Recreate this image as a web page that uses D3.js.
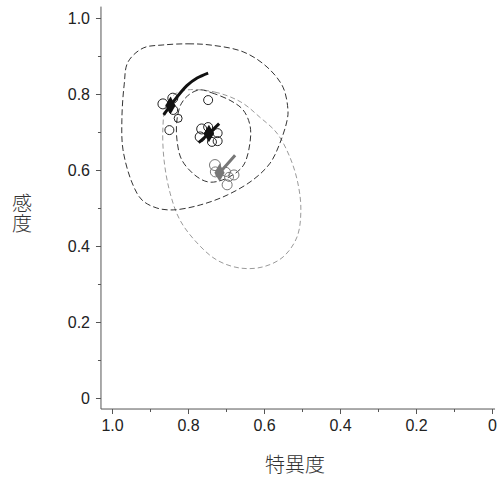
<!DOCTYPE html>
<html><head><meta charset="utf-8">
<script src="https://cdn.jsdelivr.net/npm/d3@7"></script>
<style>body{margin:0;background:#fff}</style>
</head><body>
<svg id="c" width="498" height="478"></svg>
<script>
// ---- data (specificity, sensitivity) ----
const tickValues = [1.0, 0.8, 0.6, 0.4, 0.2, 0];
const tickLabels = ["1.0", "0.8", "0.6", "0.4", "0.2", "0"];
const xTitle = "特異度";
const yTitle = "感度";

// study points: [spec, sens, size]
const studiesA = [[0.866,0.774,5],[0.840,0.789,5],[0.839,0.758,4.5],[0.826,0.736,4],[0.849,0.705,4.5],[0.747,0.784,4.5]];
const studiesB = [[0.764,0.708,5],[0.747,0.713,4.5],[0.768,0.687,5],[0.722,0.697,4.5],[0.722,0.676,4.5],[0.737,0.674,4.5]];
const studiesC = [[0.729,0.613,5.5],[0.728,0.595,5],[0.700,0.595,4.5],[0.679,0.587,5],[0.692,0.582,4.5],[0.697,0.561,5]];

// summary points
const summaryA = [0.846, 0.770];
const summaryB = [0.745, 0.696];
const summaryC = [0.717, 0.593];

// SROC curve segments
const curveA = [[0.864,0.745],[0.846,0.770],[0.803,0.822],[0.776,0.842],[0.747,0.855]];
const curveB = [[0.772,0.672],[0.745,0.696],[0.718,0.722]];
const curveC = [[0.726,0.584],[0.717,0.593],[0.676,0.639]];

// regions
const regionOuter = [[0.866,0.929],[0.800,0.932],[0.742,0.929],[0.655,0.911],[0.592,0.871],[0.550,0.818],[0.537,0.758],[0.539,0.732],[0.558,0.671],[0.584,0.618],[0.629,0.574],[0.697,0.534],[0.768,0.508],[0.839,0.495],[0.882,0.500],[0.921,0.521],[0.947,0.566],[0.971,0.653],[0.974,0.732],[0.968,0.824],[0.958,0.884],[0.918,0.921]];
const regionInner = [[0.768,0.811],[0.737,0.803],[0.687,0.782],[0.655,0.758],[0.637,0.718],[0.637,0.671],[0.655,0.611],[0.697,0.579],[0.742,0.568],[0.776,0.582],[0.816,0.626],[0.829,0.679],[0.829,0.732],[0.818,0.774],[0.795,0.800]];
const regionGray = [[0.800,0.811],[0.729,0.805],[0.661,0.779],[0.611,0.739],[0.566,0.697],[0.532,0.634],[0.511,0.566],[0.503,0.495],[0.513,0.424],[0.550,0.371],[0.603,0.345],[0.663,0.342],[0.724,0.363],[0.776,0.408],[0.821,0.468],[0.847,0.539],[0.863,0.626],[0.866,0.713],[0.858,0.771],[0.834,0.800]];

// ---- drawing ----
const svg = d3.select("#c");
const x = d3.scaleLinear().domain([1, 0]).range([112, 492]);
const y = d3.scaleLinear().domain([0, 1]).range([398, 18]);
const axisCol = "#555", textCol = "#222";

// axis lines
svg.append("line").attr("x1", x(1.029)).attr("x2", x(-0.008)).attr("y1", y(-0.029)).attr("y2", y(-0.029)).attr("stroke", axisCol);
svg.append("line").attr("x1", x(1.029)).attr("x2", x(1.029)).attr("y1", y(-0.029)).attr("y2", y(1.03)).attr("stroke", axisCol);

const xAxis = d3.axisBottom(x).tickValues(tickValues).tickFormat((d,i)=>tickLabels[i]).tickSize(5).tickSizeOuter(0).tickPadding(6);
const xMinor = d3.axisBottom(x).tickValues([0.9,0.7,0.5,0.3,0.1]).tickFormat("").tickSize(3).tickSizeOuter(0);
const yAxis = d3.axisLeft(y).tickValues(tickValues).tickFormat((d,i)=>tickLabels[i]).tickSize(5).tickSizeOuter(0).tickPadding(6);
const yMinor = d3.axisLeft(y).tickValues([0.9,0.7,0.5,0.3,0.1]).tickFormat("").tickSize(3).tickSizeOuter(0);

function styleAxis(g){
  g.select(".domain").remove();
  g.selectAll("line").attr("stroke", axisCol);
  g.selectAll("text").attr("fill", textCol).style("font-family","'Liberation Sans', Arial, sans-serif").style("font-size","16px");
}
svg.append("g").attr("transform",`translate(0,${y(-0.029)})`).call(xAxis).call(styleAxis);
svg.append("g").attr("transform",`translate(0,${y(-0.029)})`).call(xMinor).call(styleAxis);
svg.append("g").attr("transform",`translate(${x(1.029)},0)`).call(yAxis).call(styleAxis);
svg.append("g").attr("transform",`translate(${x(1.029)},0)`).call(yMinor).call(styleAxis);

// titles
svg.append("text").attr("x", 295).attr("y", 472).attr("text-anchor","middle")
  .style("font-family","'Noto Sans CJK JP', sans-serif").style("font-size","20px").style("font-weight","300")
  .attr("fill","#333").text(xTitle);
svg.append("text").attr("x", 22).attr("y", 193)
  .style("writing-mode","tb").style("glyph-orientation-vertical","0")
  .style("font-family","'Noto Sans CJK JP', sans-serif").style("font-size","20px").style("font-weight","300")
  .attr("fill","#333").text(yTitle);

// regions
const closed = d3.line().x(d=>x(d[0])).y(d=>y(d[1])).curve(d3.curveCatmullRomClosed.alpha(0.5));
svg.append("path").attr("d", closed(regionGray)).attr("fill","none").attr("stroke","#9a9a9a").attr("stroke-width",1).attr("stroke-dasharray","5,3");
svg.append("path").attr("d", closed(regionOuter)).attr("fill","none").attr("stroke","#333").attr("stroke-width",1).attr("stroke-dasharray","6,3");
svg.append("path").attr("d", closed(regionInner)).attr("fill","none").attr("stroke","#333").attr("stroke-width",1).attr("stroke-dasharray","6,3");

// study circles
function circles(data, col){
  svg.append("g").selectAll("circle").data(data).join("circle")
    .attr("cx", d=>x(d[0])).attr("cy", d=>y(d[1])).attr("r", d=>d[2])
    .attr("fill","none").attr("stroke", col).attr("stroke-width",1);
}
circles(studiesA, "#222");
circles(studiesB, "#222");
circles(studiesC, "#777");

// curves
const open = d3.line().x(d=>x(d[0])).y(d=>y(d[1])).curve(d3.curveCatmullRom);
svg.append("path").attr("d", open(curveA)).attr("fill","none").attr("stroke","#111").attr("stroke-width",3);
svg.append("path").attr("d", open(curveB)).attr("fill","none").attr("stroke","#111").attr("stroke-width",3);
svg.append("path").attr("d", open(curveC)).attr("fill","none").attr("stroke","#777").attr("stroke-width",3);

// summary points
const diamond = d3.symbol().type(d3.symbolDiamond).size(90);
[[summaryA,"#111"],[summaryB,"#111"],[summaryC,"#777"]].forEach(([p,c])=>{
  svg.append("path").attr("d", diamond()).attr("transform",`translate(${x(p[0])},${y(p[1])})`).attr("fill", c);
});
</script>
</body></html>
